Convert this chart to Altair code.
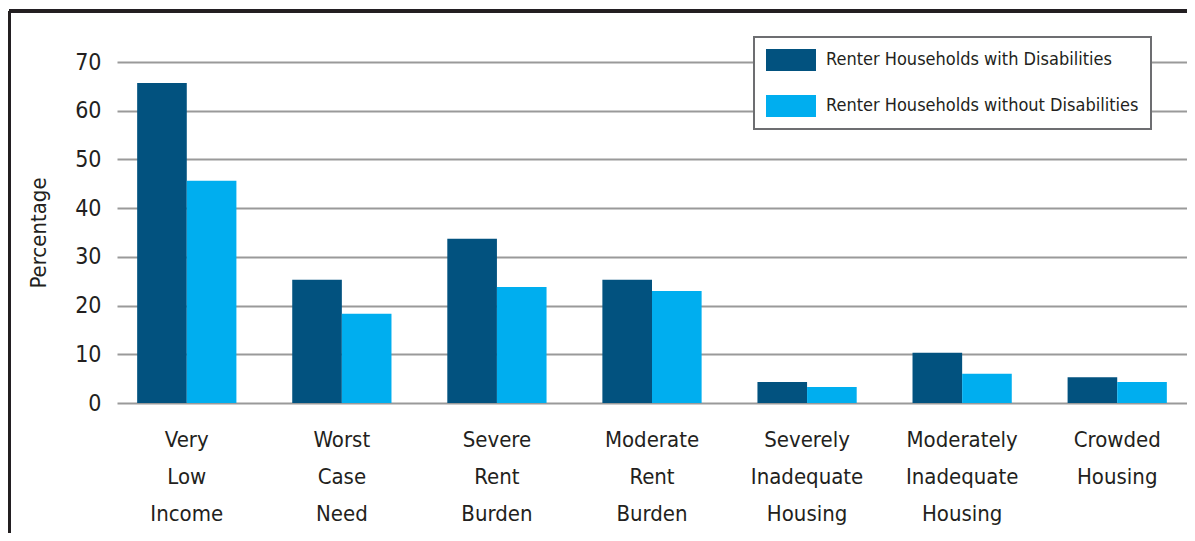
import altair as alt
import pandas as pd

categories = ["Very Low Income", "Worst Case Need", "Severe Rent Burden",
              "Moderate Rent Burden", "Severely Inadequate Housing",
              "Moderately Inadequate Housing", "Crowded Housing"]
series = ["Renter Households with Disabilities",
          "Renter Households without Disabilities"]
with_dis = [65.7, 25.3, 33.7, 25.3, 4.3, 10.3, 5.3]
without_dis = [45.6, 18.3, 23.8, 23.0, 3.3, 6.0, 4.3]
colors = ["#02527F", "#00AEEF"]
y_ticks = [0, 10, 20, 30, 40, 50, 60, 70]

rows = []
for c, a, b in zip(categories, with_dis, without_dis):
    rows.append({"cat": c, "series": series[0], "value": a})
    rows.append({"cat": c, "series": series[1], "value": b})
df = pd.DataFrame(rows)

FONT = "Liberation Sans Narrow, DejaVu Sans Condensed, sans-serif"
TXT = "#231F20"
W, H = 1070, 341

bars = alt.Chart(df).mark_bar().encode(
    x=alt.X("cat:N", sort=categories, title=None,
            scale=alt.Scale(paddingInner=0.36, paddingOuter=0.13),
            axis=alt.Axis(labelExpr="split(datum.label, ' ')", labelAngle=0,
                          labelFontSize=22, labelLineHeight=37, labelPadding=26,
                          labelColor=TXT, labelFont=FONT, ticks=False, domain=False,
                          grid=False, labelBaseline="top")),
    xOffset=alt.XOffset("series:N", sort=series, scale=alt.Scale(paddingInner=0, paddingOuter=0)),
    y=alt.Y("value:Q", title="Percentage",
            scale=alt.Scale(domain=[0, 70], nice=False),
            axis=alt.Axis(values=y_ticks, grid=True, gridColor="#9A9A9A", gridWidth=2,
                          ticks=False, domain=False, labelFontSize=23, labelFont=FONT,
                          labelColor=TXT, labelPadding=16, titleFontSize=22,
                          titleFont=FONT, titleColor=TXT, titleFontWeight="normal",
                          titlePadding=24)),
    color=alt.Color("series:N", sort=series,
                    scale=alt.Scale(domain=series, range=colors),
                    legend=alt.Legend(title=None, orient="none", legendX=637, legendY=-25,
                                      symbolType="M-1,-1H3.545V1H-1Z", symbolSize=484,
                                      symbolStrokeWidth=0, labelFontSize=18, labelFont=FONT,
                                      labelColor=TXT, labelOffset=38, rowPadding=24,
                                      padding=12, strokeColor="#6D6E71", fillColor="white",
                                      labelLimit=400)),
)

frame_top = alt.Chart(df).mark_rule(color=TXT, strokeWidth=2.5).encode(
    x=alt.value(-108), x2=alt.value(W + 10), y=alt.value(-51))
frame_left = alt.Chart(df).mark_rule(color=TXT, strokeWidth=2.5).encode(
    x=alt.value(-108), y=alt.value(-51), y2=alt.value(H + 130))

chart = alt.layer(bars, frame_top, frame_left).properties(
    width=W, height=H,
    autosize=alt.AutoSizeParams(type="none"),
    padding={"left": 109, "top": 54, "right": 0, "bottom": 130},
).configure_view(stroke=None).configure_legend(strokeWidth=2)

chart.save("out.html", embed_options={"renderer": "svg", "actions": False})
